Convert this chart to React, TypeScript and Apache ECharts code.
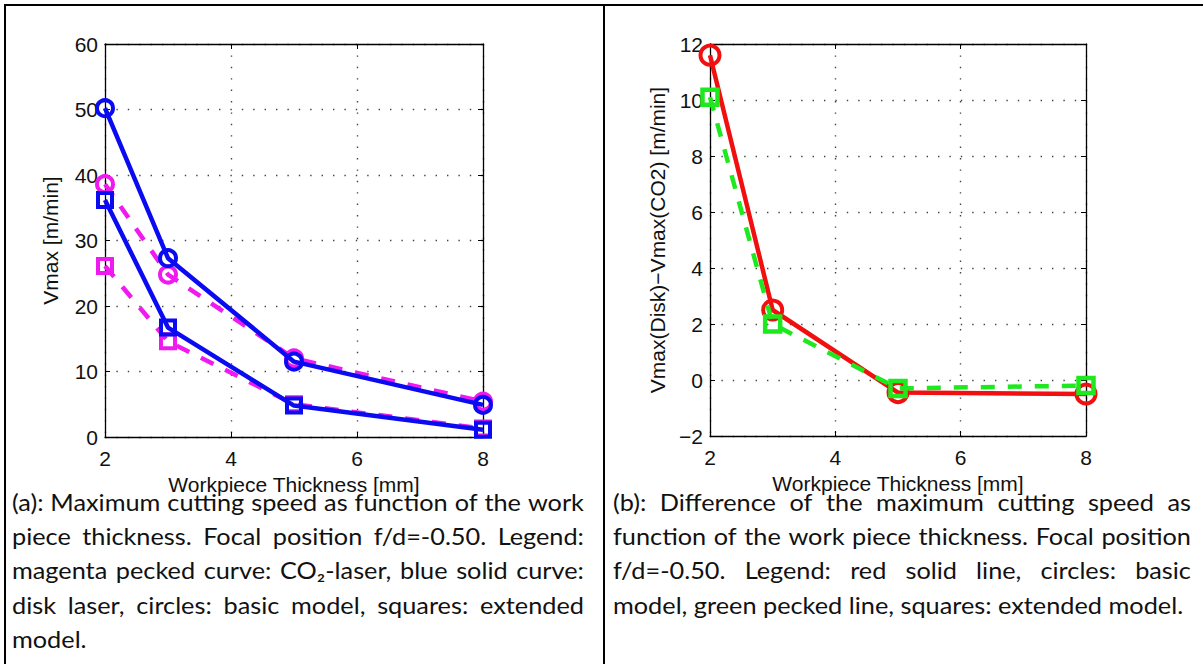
import React, { useEffect, useRef } from "react";
import * as echarts from "echarts";

// ---------- data ----------
const thickness = [2, 3, 5, 8];
const diskBasic = [50.2, 27.3, 11.5, 4.9];
const diskExtended = [36.2, 16.7, 4.8, 1.1];
const co2Basic = [38.6, 24.8, 12.0, 5.4];
const co2Extended = [26.1, 14.6, 5.0, 1.3];
const diffBasic = [11.6, 2.5, -0.45, -0.5];
const diffExtended = [10.1, 2.0, -0.3, -0.2];

const xTitle = "Workpiece Thickness [mm]";
const yTitleA = "Vmax [m/min]";
const yTitleB = "Vmax(Disk)\u2212Vmax(CO2) [m/min]";

const captionA = [
  "(a): Maximum cutting speed as function of the work",
  "piece thickness. Focal position f/d=-0.50. Legend:",
  "magenta pecked curve: CO\u2082-laser, blue solid curve:",
  "disk laser, circles: basic model, squares: extended",
  "model.",
];
const captionB = [
  "(b): Difference of the maximum cutting speed as",
  "function of the work piece thickness. Focal position",
  "f/d=-0.50. Legend: red solid line, circles: basic",
  "model, green pecked line, squares: extended model.",
];

const pair = (xs: number[], ys: number[]) => xs.map((x, i) => [x, ys[i]]);

const BLUE = "#0b0bf2";
const MAGENTA = "#f01af0";
const RED = "#f01010";
const GREEN = "#1ee81e";
const AXFONT = "'Liberation Sans', Arial, Helvetica, sans-serif";
const CAPFONT = "Lato, 'Open Sans', sans-serif";
const SVGNS = "http://www.w3.org/2000/svg";

function makeMeasurer(fontSize: number) {
  const svg = document.createElementNS(SVGNS, "svg");
  svg.setAttribute("width", "10");
  svg.setAttribute("height", "10");
  svg.style.position = "absolute";
  svg.style.left = "-9999px";
  svg.style.top = "0";
  document.body.appendChild(svg);
  const t = document.createElementNS(SVGNS, "text") as SVGTextElement;
  t.setAttribute("style", `font: ${fontSize}px ${CAPFONT}; white-space: pre;`);
  t.setAttribute("xml:space", "preserve");
  svg.appendChild(t);
  const cache: Record<string, number> = {};
  const measure = (s: string) => {
    if (cache[s] !== undefined) return cache[s];
    t.textContent = s;
    const w = t.getComputedTextLength();
    cache[s] = w;
    return w;
  };
  const spaceW = Math.max(1, measure("a a") - measure("aa"));
  const done = () => svg.remove();
  return { measure, spaceW, done };
}

function buildCaption(lines: string[], left: number, right: number, y0: number, step: number, fontSize: number, sx: number, m: any) {
  const els: any[] = [];
  lines.forEach((line, li) => {
    const y = y0 + li * step;
    const words = line.split(" ");
    const justify = li < lines.length - 1 && words.length > 1;
    const widths = words.map((w) => m.measure(w) * sx);
    const sum = widths.reduce((a: number, b: number) => a + b, 0);
    const gap = justify ? (right - left - sum) / (words.length - 1) : m.spaceW * sx;
    let x = left;
    words.forEach((w, wi) => {
      els.push({
        type: "text",
        x,
        y,
        scaleX: sx,
        silent: true,
        style: { text: w, fontSize, fontFamily: CAPFONT, fill: "#111", align: "left", verticalAlign: "middle" },
      });
      x += widths[wi] + gap;
    });
  });
  return els;
}

export default function App() {
  const ref = useRef<HTMLDivElement>(null);
  useEffect(() => {
    if (!ref.current) return;
    const chart = echarts.init(ref.current, undefined, { renderer: "svg" });

    const capSize = 23;
    const m = makeMeasurer(capSize);
    const last = captionB[captionB.length - 1].split(" ");
    const natW = last.reduce((a, w) => a + m.measure(w), 0) + m.spaceW * (last.length - 1);
    const sx = Math.max(0.8, Math.min(1.1, 576 / natW));

    const grids = [
      { left: 105, top: 44, width: 378, height: 393 },
      { left: 710, top: 44, width: 376, height: 392 },
    ];

    const minus = (v: number) => String(v).replace("-", "\u2212");

    const xAxis: any[] = [];
    const yAxis: any[] = [];
    const yRanges = [
      { min: 0, max: 60, interval: 10, name: yTitleA, gap: 44 },
      { min: -2, max: 12, interval: 2, name: yTitleB, gap: 42 },
    ];
    const grid = { show: true, lineStyle: { color: "#444", width: 1.4, type: [1.4, 10] } };
    [0, 1].forEach((g) => {
      const common = {
        gridIndex: g,
        axisLine: { show: true, onZero: false, lineStyle: { color: "#000", width: 1.3 } },
        axisTick: { show: true, inside: true, length: 5, lineStyle: { color: "#000", width: 1 } },
      };
      xAxis.push({
        ...common,
        type: "value",
        position: "bottom",
        min: 2,
        max: 8,
        interval: 2,
        name: xTitle,
        nameLocation: "middle",
        nameGap: 33,
        nameTextStyle: { fontSize: 21, fontFamily: AXFONT, color: "#111" },
        axisLabel: { fontSize: 21, fontFamily: AXFONT, color: "#111", margin: 11 },
        splitLine: grid,
      });
      xAxis.push({
        ...common,
        type: "value",
        position: "top",
        min: 2,
        max: 8,
        interval: 2,
        axisLabel: { show: false },
        splitLine: { show: false },
      });
      const r = yRanges[g];
      yAxis.push({
        ...common,
        type: "value",
        position: "left",
        min: r.min,
        max: r.max,
        interval: r.interval,
        name: r.name,
        nameLocation: "middle",
        nameGap: r.gap,
        nameTextStyle: { fontSize: 21, fontFamily: AXFONT, color: "#111" },
        axisLabel: { fontSize: 21, fontFamily: AXFONT, color: "#111", margin: 7, formatter: minus },
        splitLine: grid,
      });
      yAxis.push({
        ...common,
        type: "value",
        position: "right",
        min: r.min,
        max: r.max,
        interval: r.interval,
        axisLabel: { show: false },
        splitLine: { show: false },
      });
    });

    const mk = (data: number[][], g: number, color: string, symbol: string, size: number, dashed: boolean, bw: number) => ({
      type: "line",
      xAxisIndex: g * 2,
      yAxisIndex: g * 2,
      data,
      symbol,
      symbolSize: size,
      showSymbol: true,
      lineStyle: { color, width: 4.5, type: dashed ? [14, 13] : "solid" },
      itemStyle: { color: "rgba(255,255,255,0)", borderColor: color, borderWidth: bw },
      emphasis: { disabled: true },
      z: dashed ? 2 : 3,
    });

    const series = [
      mk(pair(thickness, co2Basic), 0, MAGENTA, "circle", 16, true, 4),
      mk(pair(thickness, co2Extended), 0, MAGENTA, "rect", 14, true, 4),
      mk(pair(thickness, diskBasic), 0, BLUE, "circle", 16, false, 4),
      mk(pair(thickness, diskExtended), 0, BLUE, "rect", 14, false, 4),
      { ...mk(pair(thickness, diffBasic), 1, RED, "circle", 19, false, 4), z: 2 },
      { ...mk(pair(thickness, diffExtended), 1, GREEN, "rect", 15, true, 4.5), z: 3 },
    ];

    const border = { stroke: "#000", lineWidth: 2 };
    const graphic: any[] = [
      { type: "line", silent: true, shape: { x1: 4, y1: 5, x2: 1203, y2: 5 }, style: border },
      { type: "line", silent: true, shape: { x1: 5, y1: 4, x2: 5, y2: 664 }, style: border },
      { type: "line", silent: true, shape: { x1: 604, y1: 4, x2: 604, y2: 664 }, style: border },
      ...buildCaption(captionA, 12, 584, 502, 34.2, capSize, sx, m),
      ...buildCaption(captionB, 613, 1191, 502, 34.2, capSize, sx, m),
    ];
    m.done();

    chart.setOption({
      animation: false,
      backgroundColor: "#fff",
      grid: grids,
      xAxis,
      yAxis,
      series,
      graphic,
    });
    return () => chart.dispose();
  }, []);
  return <div ref={ref} style={{ position: "fixed", left: 0, top: 0, width: 1203, height: 664 }} />;
}
